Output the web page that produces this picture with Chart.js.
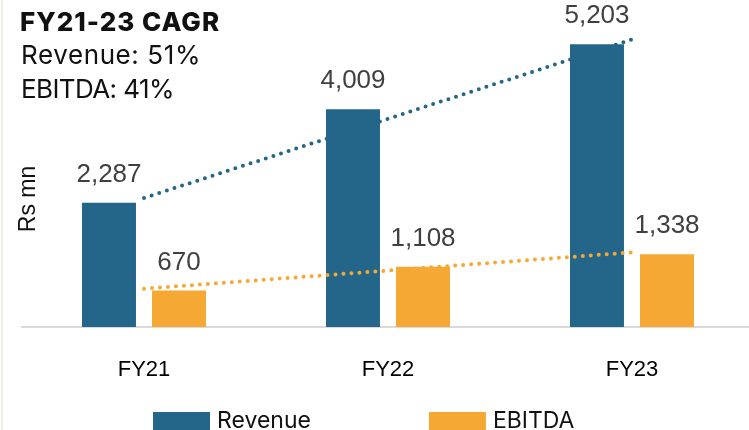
<!DOCTYPE html>
<html>
<head>
<meta charset="utf-8">
<script src="https://cdn.jsdelivr.net/npm/chart.js@4"></script>
<style>
  html, body { margin: 0; padding: 0; background: #fff; overflow: hidden; }
  #wrap { position: relative; width: 749px; height: 430px; overflow: hidden; }
  #edge { position: absolute; left: 1px; top: 0; width: 2px; height: 430px; background: #eeeee4; z-index: 2; }
  canvas { position: absolute; left: 0; top: 0; }
</style>
</head>
<body>
<div id="wrap">
  <div id="edge"></div>
  <canvas id="barChart" width="756" height="440"></canvas>
</div>
<script>
const years = ['FY21', 'FY22', 'FY23'];
const revenue = [2287, 4009, 5203];
const ebitda = [670, 1108, 1338];
// linear trend end points (FY21, FY23)
const revenueTrend = [2375, null, 5291];
const ebitdaTrend = [705, null, 1373];
const cagrLines = ['FY21-23 CAGR', 'Revenue: 51%', 'EBITDA: 41%'];

const BLUE = '#24668a';
const ORANGE = '#f5a833';

// value labels above each bar
const barLabels = {
    id: 'barLabels',
    afterDatasetsDraw(chart) {
        const ctx = chart.ctx;
        ctx.save();
        ctx.font = '26px "Liberation Sans", Arial, sans-serif';
        ctx.fillStyle = '#404040';
        ctx.textAlign = 'center';
        ctx.textBaseline = 'alphabetic';
        chart.data.datasets.forEach(function (ds, i) {
            if (ds.type !== 'bar') return;
            chart.getDatasetMeta(i).data.forEach(function (bar, j) {
                ctx.fillText(ds.data[j].toLocaleString('en-US'), bar.x, bar.y - 21);
            });
        });
        ctx.restore();
    }
};

// CAGR note, y axis title and legend
const extras = {
    id: 'extras',
    afterDraw(chart) {
        const ctx = chart.ctx;
        ctx.save();
        ctx.fillStyle = '#111';
        ctx.textAlign = 'left';
        ctx.textBaseline = 'alphabetic';
        ctx.font = '800 26px Inter, sans-serif';
        ctx.letterSpacing = '1px';
        ctx.fillText(cagrLines[0], 20, 31);
        ctx.font = '26px Inter, sans-serif';
        ctx.letterSpacing = '0.6px';
        ctx.fillText(cagrLines[1], 21, 64);
        ctx.letterSpacing = '-0.6px';
        ctx.fillText(cagrLines[2], 21, 98);
        ctx.letterSpacing = '0px';

        ctx.save();
        ctx.translate(35, 199);
        ctx.rotate(-Math.PI / 2);
        ctx.textAlign = 'center';
        ctx.font = '23px "Liberation Sans", Arial, sans-serif';
        ctx.fillText('Rs mn', 0, 0);
        ctx.restore();

        let x = 153;
        ctx.font = '23px Inter, sans-serif';
        chart.data.datasets.forEach(function (ds) {
            if (ds.type !== 'bar') return;
            ctx.fillStyle = ds.backgroundColor;
            ctx.fillRect(x, 412, 57, 22);
            ctx.fillStyle = '#111';
            ctx.fillText(ds.label, x + 64, 428);
            x += 57 + 7 + ctx.measureText(ds.label).width + 118;
        });
        ctx.restore();
    }
};

function generateBarChart() {
    var ctx = document.getElementById('barChart').getContext('2d');
    var myChart = new Chart(ctx, {
        data: {
            labels: years,
            datasets: [{
                type: 'line',
                label: 'Revenue trend',
                data: revenueTrend,
                borderColor: BLUE,
                borderWidth: 4,
                borderDash: [0, 8],
                borderCapStyle: 'round',
                spanGaps: true,
                pointRadius: 0,
                order: 0
            }, {
                type: 'line',
                label: 'EBITDA trend',
                data: ebitdaTrend,
                borderColor: ORANGE,
                borderWidth: 4,
                borderDash: [0, 8],
                borderCapStyle: 'round',
                spanGaps: true,
                pointRadius: 0,
                order: 0
            }, {
                type: 'bar',
                label: 'Revenue',
                data: revenue,
                backgroundColor: BLUE,
                categoryPercentage: 0.574,
                barPercentage: 0.771,
                order: 1
            }, {
                type: 'bar',
                label: 'EBITDA',
                data: ebitda,
                backgroundColor: ORANGE,
                categoryPercentage: 0.574,
                barPercentage: 0.771,
                order: 1
            }]
        },
        options: {
            responsive: false,
            animation: false,
            layout: {
                padding: { left: 22, right: 2, top: 1, bottom: 53 }
            },
            plugins: {
                legend: { display: false },
                tooltip: { enabled: false }
            },
            scales: {
                x: {
                    grid: { display: false, drawTicks: false },
                    border: { display: true, color: '#d9d9d9', width: 2 },
                    ticks: {
                        padding: 30,
                        color: '#000',
                        font: { family: '"Liberation Sans", Arial, sans-serif', size: 22 }
                    },
                    afterFit(scale) { scale.height = 60; }
                },
                y: {
                    display: false,
                    min: 0,
                    max: 6000
                }
            }
        },
        plugins: [barLabels, extras]
    });
}

generateBarChart();
</script>
</body>
</html>
